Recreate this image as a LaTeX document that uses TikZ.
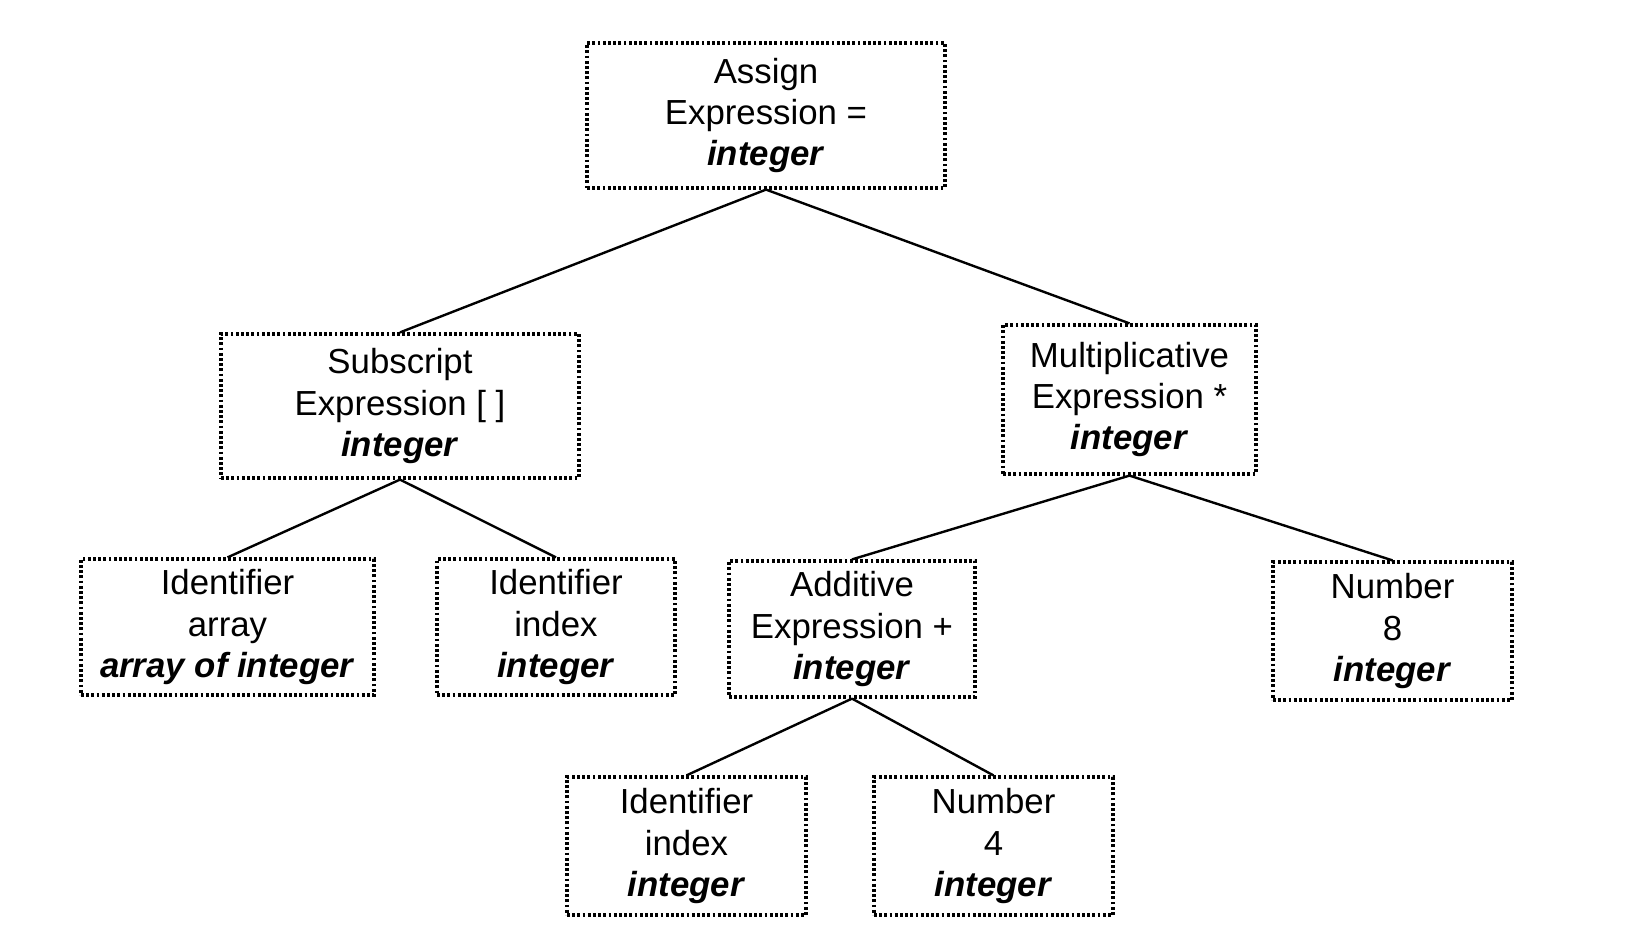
\documentclass[tikz,border=0pt]{standalone}
\usepackage{fontspec}
\setmainfont{Liberation Sans}
\begin{document}
\begin{tikzpicture}[x=0.5pt,y=-0.5pt,
  tbox/.style={draw, line width=1.6pt, dash pattern=on 1.4pt off 1.2pt, align=center, inner sep=0pt,
    font=\fontsize{17.4pt}{20.6pt}\selectfont},
  conn/.style={line width=1.2pt}]
\useasboundingbox (0,0) rectangle (1626,942);
\newcommand{\ty}[1]{\textbf{\textit{#1}}}
\node[tbox, minimum width=179pt, minimum height=72.5pt] (assign) at (766,115.5) {Assign\\Expression =\\\ty{integer}};
\node[tbox, minimum width=179pt, minimum height=72pt] (sub) at (400,406) {Subscript\\Expression [ ]\\\ty{integer}};
\node[tbox, minimum width=126.5pt, minimum height=74.5pt] (mul) at (1129.5,399.5) {Multiplicative\\Expression *\\\ty{integer}};
\node[tbox, minimum width=146.5pt, minimum height=68pt] (ida) at (227.5,627) {Identifier\\array\\\ty{array of integer}};
\node[tbox, minimum width=119pt, minimum height=68pt] (idi) at (556,627) {Identifier\\index\\\ty{integer}};
\node[tbox, minimum width=123pt, minimum height=68pt] (add) at (852,629) {Additive\\Expression +\\\ty{integer}};
\node[tbox, minimum width=119.5pt, minimum height=69pt] (n8) at (1392.5,631) {Number\\8\\\ty{integer}};
\node[tbox, minimum width=119.5pt, minimum height=69pt] (idi2) at (686.5,846) {Identifier\\index\\\ty{integer}};
\node[tbox, minimum width=119.5pt, minimum height=69pt] (n4) at (993.5,846) {Number\\4\\\ty{integer}};
\draw[conn] (assign.south) -- (sub.north);
\draw[conn] (assign.south) -- (mul.north);
\draw[conn] (sub.south) -- (ida.north);
\draw[conn] (sub.south) -- (idi.north);
\draw[conn] (mul.south) -- (add.north);
\draw[conn] (mul.south) -- (n8.north);
\draw[conn] (add.south) -- (idi2.north);
\draw[conn] (add.south) -- (n4.north);
\end{tikzpicture}
\end{document}
